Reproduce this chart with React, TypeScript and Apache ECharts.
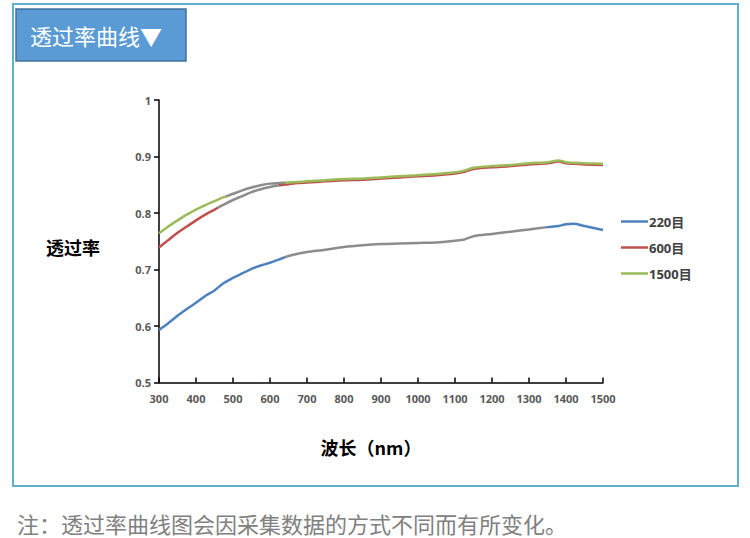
import React, { useEffect, useRef } from "react";
import * as echarts from "echarts";

const wavelengths = [300, 325, 350, 375, 400, 425, 450, 475, 500, 525, 550, 575, 600, 625, 650, 675, 700, 750, 800, 850, 900, 950, 1000, 1050, 1100, 1125, 1150, 1200, 1250, 1300, 1350, 1380, 1400, 1420, 1450, 1500];

const mesh220 = [0.593, 0.605, 0.618, 0.63, 0.641, 0.653, 0.663, 0.676, 0.685, 0.693, 0.701, 0.707, 0.712, 0.718, 0.724, 0.728, 0.731, 0.735, 0.74, 0.743, 0.745, 0.746, 0.747, 0.748, 0.751, 0.753, 0.759, 0.763, 0.767, 0.771, 0.775, 0.777, 0.78, 0.781, 0.777, 0.77];
const mesh600 = [0.739, 0.752, 0.765, 0.776, 0.787, 0.797, 0.806, 0.815, 0.823, 0.83, 0.837, 0.842, 0.846, 0.849, 0.851, 0.853, 0.854, 0.856, 0.858, 0.859, 0.861, 0.863, 0.865, 0.867, 0.87, 0.873, 0.878, 0.881, 0.883, 0.886, 0.888, 0.891, 0.888, 0.887, 0.886, 0.885];
const mesh1500 = [0.764, 0.776, 0.787, 0.797, 0.806, 0.814, 0.821, 0.828, 0.834, 0.84, 0.845, 0.849, 0.852, 0.853, 0.854, 0.855, 0.856, 0.858, 0.86, 0.861, 0.863, 0.865, 0.867, 0.869, 0.872, 0.875, 0.88, 0.883, 0.885, 0.888, 0.89, 0.893, 0.89, 0.889, 0.888, 0.887];

const seriesNames = ["220目", "600目", "1500目"];
const seriesColors = ["#4F81BD", "#C0504D", "#9BBB59"];
const greyRanges = [
  [640, 1345],
  [460, 625],
  [480, 640],
];
const GREY = "#8c8c8c";

const title = "透过率曲线▼";
const yName = "透过率";
const xName = "波长（nm）";
const caption = "注：透过率曲线图会因采集数据的方式不同而有所变化。";

export default function App() {
  const ref = useRef<HTMLDivElement>(null);
  useEffect(() => {
    document.body.style.margin = "0";
    const chart = echarts.init(ref.current!, null, { renderer: "svg" });
    const all = [mesh220, mesh600, mesh1500];
    const numFont = '"Open Sans", "Noto Sans CJK SC", sans-serif';
    const cjkFont = '"Noto Sans CJK SC", sans-serif';
    chart.setOption({
      animation: false,
      backgroundColor: "#ffffff",
      grid: { left: 159, right: 147, top: 100, bottom: 155.5 },
      xAxis: {
        type: "value",
        min: 300,
        max: 1500,
        interval: 100,
        axisLine: { lineStyle: { color: "#000", width: 1.5 } },
        axisTick: { inside: true, length: 5, lineStyle: { color: "#000", width: 1.5 } },
        axisLabel: {
          color: "#595959",
          fontSize: 11,
          fontWeight: "bold",
          fontFamily: numFont,
          margin: 10,
          formatter: (v: number) => String(v),
        },
        splitLine: { show: false },
      },
      yAxis: {
        type: "value",
        min: 0.5,
        max: 1,
        interval: 0.1,
        axisLine: { show: true, lineStyle: { color: "#000", width: 1.5 } },
        axisTick: { show: true, inside: false, length: 5, lineStyle: { color: "#000", width: 1.5 } },
        axisLabel: {
          color: "#595959",
          fontSize: 11,
          fontWeight: "bold",
          fontFamily: numFont,
          margin: 8,
          formatter: (v: number) => String(Number(v.toFixed(1))),
        },
        splitLine: { show: false },
      },
      legend: {
        orient: "vertical",
        left: 621,
        top: 215,
        icon: "rect",
        itemWidth: 27,
        itemHeight: 2.5,
        itemGap: 13,
        padding: 0,
        textStyle: { color: "#404040", fontSize: 13, fontWeight: "bold", fontFamily: numFont, padding: [0, 0, 0, -4] },
        data: seriesNames.map((n, i) => ({
          name: n,
          itemStyle: { color: seriesColors[i] },
        })),
      },
      visualMap: greyRanges.map((r, i) => ({
        show: false,
        type: "piecewise",
        seriesIndex: i,
        dimension: 0,
        pieces: [
          { lt: r[0], color: seriesColors[i] },
          { gte: r[0], lt: r[1], color: GREY },
          { gte: r[1], color: seriesColors[i] },
        ],
      })),
      series: seriesNames.map((n, i) => ({
        name: n,
        type: "line",
        symbol: "none",
        smooth: 0.3,
        z: 3 + i,
        lineStyle: { width: 2.5 },
        data: wavelengths.map((w, k) => [w, all[i][k]]),
      })),
      graphic: [
        {
          type: "rect",
          z: -10,
          shape: { x: 13, y: 4, width: 725, height: 482 },
          style: { fill: "none", stroke: "#5fb0cc", lineWidth: 2 },
          silent: true,
        },
        {
          type: "rect",
          shape: { x: 16, y: 9, width: 170, height: 52 },
          style: { fill: "#5b9bd5", stroke: "#41719c", lineWidth: 1.5 },
          silent: true,
        },
        {
          type: "text",
          x: 30,
          y: 35,
          style: { text: title, fill: "#ffffff", fontSize: 22, fontFamily: cjkFont, verticalAlign: "middle", align: "left" },
          silent: true,
        },
        {
          type: "text",
          x: 73,
          y: 247,
          style: { text: yName, fill: "#000", fontSize: 18, fontWeight: "bold", fontFamily: cjkFont, verticalAlign: "middle", align: "center" },
          silent: true,
        },
        {
          type: "text",
          x: 371,
          y: 447,
          style: { text: xName, fill: "#000", fontSize: 18, fontWeight: "bold", fontFamily: cjkFont, verticalAlign: "middle", align: "center" },
          silent: true,
        },
        {
          type: "text",
          x: 17,
          y: 523,
          style: { text: caption, fill: "#808080", fontSize: 22, fontFamily: cjkFont, verticalAlign: "middle", align: "left" },
          silent: true,
        },
      ],
    });
    return () => chart.dispose();
  }, []);
  return <div ref={ref} style={{ width: 750, height: 538 }} />;
}
